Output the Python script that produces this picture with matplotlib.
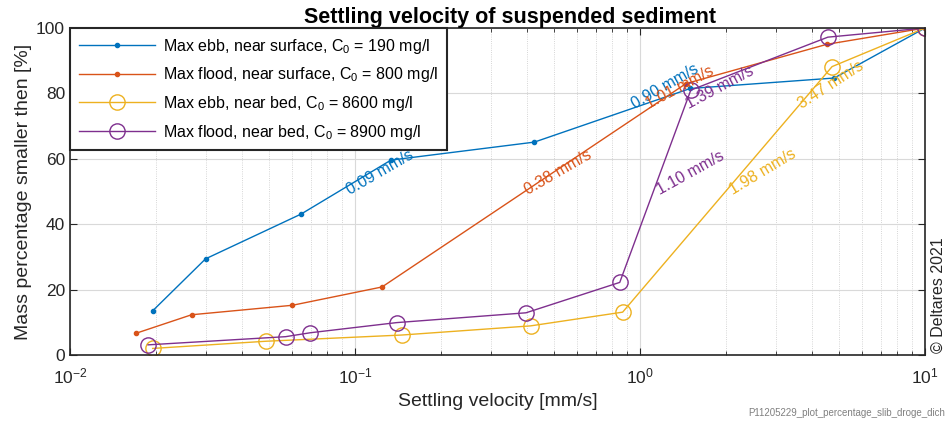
import numpy as np
import matplotlib.pyplot as plt

plt.rcParams['font.family'] = ['Liberation Sans', 'DejaVu Sans']
plt.rcParams['mathtext.fontset'] = 'custom'
plt.rcParams['mathtext.rm'] = 'Liberation Sans'
plt.rcParams['mathtext.it'] = 'Liberation Sans:italic'

# data
ebb_surf_v = [0.0195, 0.0299, 0.0647, 0.1337, 0.4258, 1.5, 4.8, 10]
ebb_surf_p = [13.5, 29.4, 43.1, 59.6, 65.1, 81.5, 84.7, 100]

flood_surf_v = [0.0170, 0.0267, 0.0603, 0.1244, 1.45, 4.52, 10]
flood_surf_p = [6.6, 12.3, 15.2, 20.8, 83.0, 95.0, 100]

ebb_bed_v = [0.0195, 0.0487, 0.1458, 0.413, 0.869, 4.72, 10]
ebb_bed_p = [2.0, 4.2, 6.1, 8.9, 13.1, 88.2, 100]

flood_bed_v = [0.0188, 0.0571, 0.0697, 0.140, 0.398, 0.849, 1.507, 4.56, 10]
flood_bed_p = [3.1, 5.6, 6.8, 9.9, 12.9, 22.2, 81.0, 97.2, 100]

labels = ['Max ebb, near surface, C$_0$ = 190 mg/l',
          'Max flood, near surface, C$_0$ = 800 mg/l',
          'Max ebb, near bed, C$_0$ = 8600 mg/l',
          'Max flood, near bed, C$_0$ = 8900 mg/l']
colors = ['#0072BD', '#D95319', '#EDB120', '#7E2F8E']

# D50 and D80 per series (same order as labels)
d50 = [0.09, 0.38, 1.98, 1.10]
d80 = [0.90, 1.01, 3.47, 1.39]
ang50 = [30, 30, 31, 29]
ang80 = [30, 28, 33, 28]

series = [(ebb_surf_v, ebb_surf_p), (flood_surf_v, flood_surf_p),
          (ebb_bed_v, ebb_bed_p), (flood_bed_v, flood_bed_p)]

fig = plt.figure(figsize=(9.47, 4.23), dpi=100)
ax = fig.add_axes([0.0739, 0.1608, 0.9029, 0.773])

for i, (v, p) in enumerate(series):
    if i < 2:
        ax.plot(v, p, '.-', color=colors[i], lw=1, ms=6, label=labels[i])
    else:
        ax.plot(v, p, 'o-', color=colors[i], lw=1, ms=11, mfc='none',
                mew=1, label=labels[i])

ax.set_xscale('log')
ax.set_xlim(0.01, 10)
ax.set_ylim(0, 100)
ax.set_yticks([0, 20, 40, 60, 80, 100])

ax.grid(True, which='major', color='#d9d9d9', lw=0.8, ls='-')
ax.grid(True, which='minor', color='#c8c8c8', lw=0.6, ls=':')
ax.set_axisbelow(True)

ax.tick_params(which='both', direction='in', top=True, right=True,
               labelsize=12.5, colors='#262626')
ax.tick_params(axis='x', which='major', pad=8)
ax.tick_params(which='major', length=5)
ax.tick_params(which='minor', length=3)
for s in ax.spines.values():
    s.set_color('#262626')
    s.set_linewidth(1.2)

ax.set_xlabel('Settling velocity [mm/s]', fontsize=14, color='#262626', labelpad=5)
ax.set_ylabel('Mass percentage smaller then [%]', fontsize=14, color='#262626', labelpad=3)
ax.set_title('Settling velocity of suspended sediment', fontsize=15.5,
             fontweight='bold', pad=3, x=0.515)

# D50 / D80 labels (80% ones sit a bit lower in the original)
for i in range(4):
    for d, lev, ang, dy in [(d50[i], 50, ang50[i], 0), (d80[i], 80, ang80[i], -12)]:
        ax.annotate('%.2f mm/s' % d, xy=(d, lev), xytext=(6, dy),
                    textcoords='offset pixels', color=colors[i], fontsize=11.5,
                    rotation=ang, rotation_mode='anchor', ha='left', va='center')

leg = ax.legend(loc='upper left', fontsize=11.5, fancybox=False,
                framealpha=1, borderaxespad=0, handlelength=4.8,
                borderpad=0.55, labelspacing=0.6, handletextpad=0.5)
leg.get_frame().set_edgecolor('#262626')
leg.get_frame().set_linewidth(1.5)

fig.text(0.999, 0.165, '\u00a9 Deltares 2021', rotation=90, ha='right',
         va='bottom', fontsize=11.5, color='#262626')
fig.text(0.998, 0.012, 'P11205229_plot_percentage_slib_droge_dich',
         ha='right', va='bottom', fontsize=7, color='#808080')

fig.savefig('out.png', dpi=100)
